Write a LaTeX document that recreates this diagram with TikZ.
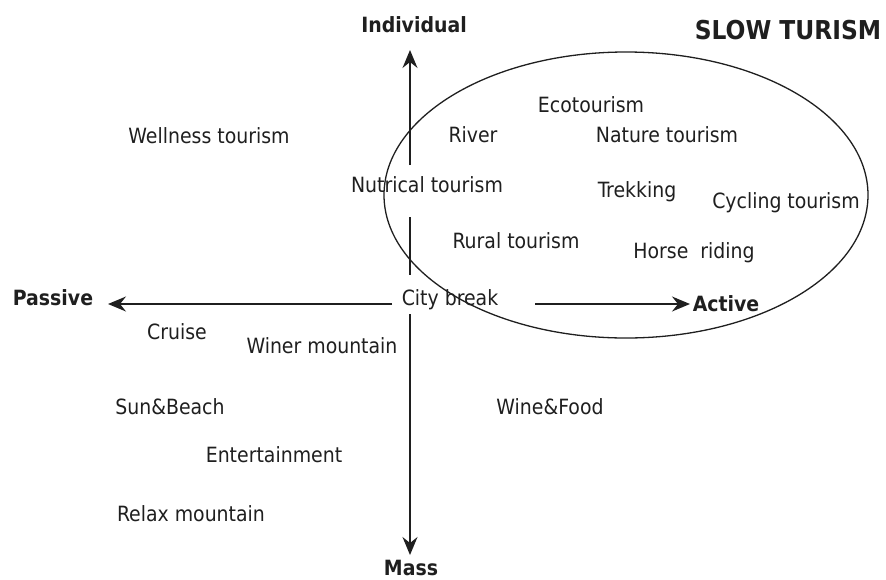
\documentclass[tikz,border=0pt]{standalone}
\usepackage{fontspec}
\setmainfont{DejaVu Sans Condensed}
\usepackage{tikz}
\usetikzlibrary{arrows.meta, positioning}

\begin{document}
\begin{tikzpicture}[x=1pt, y=-1pt, >={Stealth[length=18pt, width=15pt, inset=6pt]}]
    \tikzstyle{kind} = [inner sep=0pt, anchor=base, text=black!88, font=\fontsize{21}{25}\selectfont]
    \tikzstyle{pole} = [kind, font=\fontsize{21}{25}\selectfont\bfseries]
    \tikzstyle{axis} = [line width=1.6pt, black!88]
    \useasboundingbox (0,0) rectangle (886,579);
    % poles
    \node [pole] (individual) at (414,32) {Individual};
    \node [pole] (mass) at (411,575) {Mass};
    \node [pole] (passive) at (53,305) {Passive};
    \node [pole] (active) at (726,311) {Active};
    \node [pole, font=\fontsize{26}{30}\selectfont\bfseries] (slow) at (788,39) {SLOW TURISM};
    % kinds of tourism
    \node [kind] (eco) at (591,112) {Ecotourism};
    \node [kind] (river) at (473,142) {River};
    \node [kind] (nature) at (667,142) {Nature tourism};
    \node [kind] (wellness) at (209,143) {Wellness tourism};
    \node [kind] (nutrical) at (427,192) {Nutrical tourism};
    \node [kind] (trekking) at (637,197) {Trekking};
    \node [kind] (cycling) at (786,208) {Cycling tourism};
    \node [kind] (rural) at (516,248) {Rural tourism};
    \node [kind] (horse) at (694,258) {Horse\ \ riding};
    \node [kind] (city) at (450,305) {City break};
    \node [kind] (cruise) at (177,339) {Cruise};
    \node [kind] (winer) at (322,353) {Winer mountain};
    \node [kind] (sun) at (170,414) {Sun\&Beach};
    \node [kind] (wine) at (550,414) {Wine\&Food};
    \node [kind] (enter) at (274,462) {Entertainment};
    \node [kind] (relax) at (191,521) {Relax mountain};
    % axes, broken round the labels
    \coordinate (upTip) at (410,50);
    \coordinate (upGap) at (410,165);
    \coordinate (midTop) at (410,217);
    \coordinate (midBot) at (410,275);
    \coordinate (lowTop) at (410,314);
    \coordinate (downTip) at (410,555);
    \coordinate (leftTip) at (108,304);
    \coordinate (leftGap) at (392,304);
    \coordinate (rightGap) at (535,304);
    \coordinate (rightTip) at (690,304);
    \draw [axis, ->] (upGap) -- (upTip);
    \draw [axis] (midTop) -- (midBot);
    \draw [axis, ->] (lowTop) -- (downTip);
    \draw [axis, ->] (leftGap) -- (leftTip);
    \draw [axis, ->] (rightGap) -- (rightTip);
    % slow tourism
    \draw [line width=1.3pt, black!88] (626,195) ellipse [x radius=242, y radius=143];
\end{tikzpicture}
\end{document}
